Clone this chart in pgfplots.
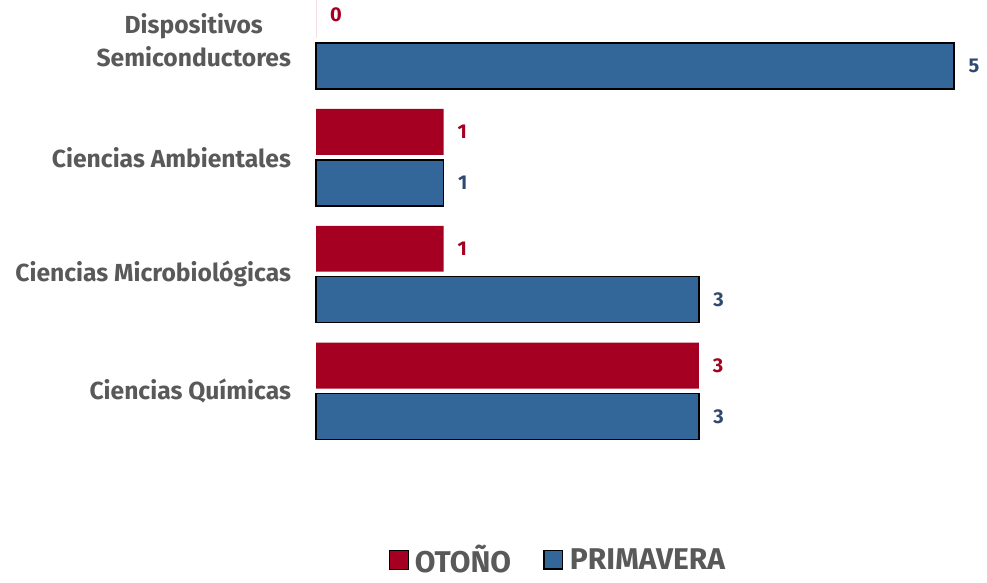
\documentclass[border=0pt]{standalone}
\usepackage{fontspec}
\setmainfont{Fira Sans}
\usepackage{pgfplots}
\pgfplotsset{compat=1.18}
\definecolor{otono}{HTML}{A50021}
\definecolor{prima}{HTML}{336699}
\definecolor{primalbl}{HTML}{2E4A6E}
\definecolor{lblgray}{HTML}{595959}

\begin{document}
\begin{tikzpicture}
\path[use as bounding box] (0,0) rectangle (740.25pt,-436.5pt);
\begin{axis}[
    at={(237pt,-337.125pt)}, anchor=south west,
    scale only axis,
    width=478.5pt, height=337.125pt,
    xbar,
    xmin=0, xmax=5,
    ymin=-0.5, ymax=3.3462,
    bar width=0.393,
    clip=false,
    axis line style={draw=none},
    tick style={draw=none},
    xtick=\empty,
    ytick={0,1,2,3},
    yticklabels={Ciencias Químicas, Ciencias Microbiológicas, Ciencias Ambientales, {Dispositivos\\Semiconductores}},
    yticklabel style={font=\fontsize{18.5}{25}\selectfont\bfseries, text=lblgray, align=center, xshift=-11pt},
    /pgf/number format/assume math mode=true,
    nodes near coords,
    every node near coord/.append style={font=\fontsize{15}{17}\selectfont\bfseries, xshift=7pt},
    legend style={at={(0.38,-0.245)}, anchor=center, draw=none, legend columns=2,
        font=\fontsize{22.5}{24}\selectfont\bfseries, text=lblgray,
        /tikz/every odd column/.append style={column sep=3pt},
        /tikz/every even column/.append style={column sep=22pt}},
    legend image code/.code={\draw[#1] (0pt,-7pt) rectangle (14pt,7pt);},
]
\addplot[fill=otono, draw=none, bar shift=0.218,
    every node near coord/.append style={text=otono}]
    coordinates {(3,0) (1,1) (1,2) (0,3)};
\addlegendentry{OTOÑO}
\addplot[fill=prima, draw=black, line width=1.1pt, bar shift=-0.218,
    every node near coord/.append style={text=primalbl}]
    coordinates {(3,0) (3,1) (1,2) (5,3)};
\addlegendentry{PRIMAVERA}
\end{axis}
\end{tikzpicture}
\end{document}
